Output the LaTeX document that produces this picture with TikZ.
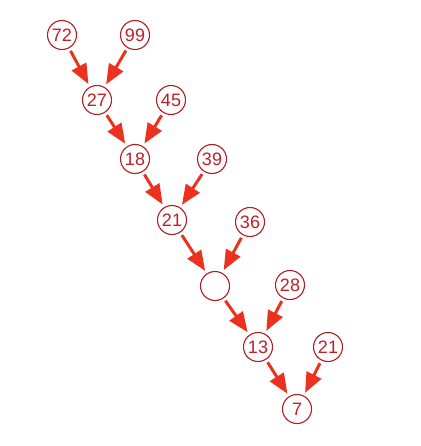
\documentclass[tikz,border=0pt]{standalone}
\usepackage{fontspec}
\setmainfont{Liberation Sans}
\usetikzlibrary{arrows.meta}
\definecolor{ring}{RGB}{180,30,35}
\definecolor{numc}{RGB}{190,30,40}
\definecolor{arr}{RGB}{235,50,30}
\begin{document}
\begin{tikzpicture}[x=1pt,y=-1pt,
  num/.style={circle,draw=ring,line width=1.1pt,minimum size=29pt,inner sep=0pt,text=numc,font=\fontsize{18}{18}\selectfont},
  link/.style={draw=arr,line width=3pt,-{Triangle[length=20pt,width=16pt]},shorten <=3pt,shorten >=3pt}]
\useasboundingbox (0,0) rectangle (420,446);
\node[num] (a72) at (62,35) {72};
\node[num] (a99) at (135,35) {99};
\node[num] (a27) at (97,100) {27};
\node[num] (a45) at (171,100) {45};
\node[num] (a18) at (135,159) {18};
\node[num] (a39) at (212,159) {39};
\node[num] (a21) at (172,220) {21};
\node[num] (a36) at (250,222) {36};
\node[num] (ae) at (215,286) {};
\node[num] (a28) at (290,285) {28};
\node[num] (a13) at (258,347) {13};
\node[num] (b21) at (328,347) {21};
\node[num] (a7) at (297,409) {7};
\draw[link] (a72) -- (a27);
\draw[link] (a99) -- (a27);
\draw[link] (a27) -- (a18);
\draw[link] (a45) -- (a18);
\draw[link] (a18) -- (a21);
\draw[link] (a39) -- (a21);
\draw[link] (a21) -- (ae);
\draw[link] (a36) -- (ae);
\draw[link] (ae) -- (a13);
\draw[link] (a28) -- (a13);
\draw[link] (a13) -- (a7);
\draw[link] (b21) -- (a7);
\end{tikzpicture}
\end{document}
